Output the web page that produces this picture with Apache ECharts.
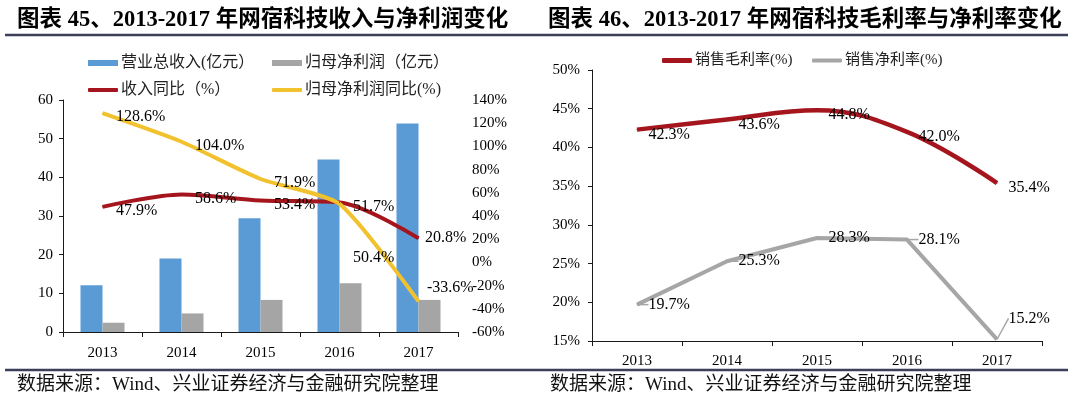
<!DOCTYPE html>
<html>
<head>
<meta charset="utf-8">
<script src="https://cdn.jsdelivr.net/npm/echarts@6/dist/echarts.min.js"></script>
<style>
html, body { margin: 0; padding: 0; background: #fff; }
#main { width: 1080px; height: 397px; }
</style>
</head>
<body>
<div id="main"></div>
<script>
// 数据
var years = ['2013', '2014', '2015', '2016', '2017'];
var revenue = [12.1, 19.0, 29.4, 44.6, 53.9];        // 营业总收入(亿元)
var netProfit = [2.4, 4.8, 8.3, 12.6, 8.3];          // 归母净利润(亿元)
var revenueYoY = [47.9, 58.6, 53.4, 51.7, 20.8];     // 收入同比(%)
var profitYoY = [128.6, 104.0, 71.9, 50.4, -33.6];   // 归母净利润同比(%)
var grossMargin = [42.3, 43.6, 44.8, 42.0, 35.4];    // 销售毛利率(%)
var netMargin = [19.7, 25.3, 28.3, 28.1, 15.2];      // 销售净利率(%)

var serif = "'Liberation Serif', 'Noto Sans CJK SC', serif";
var RED = '#a5151d', YELLOW = '#f2c12e', BLUE = '#5b9bd5', GREY_BAR = '#a5a5a5', GREY_LINE = '#a6a6a6';

var myChart = echarts.init(document.getElementById('main'));

function pct(p) { return p.value.toFixed(1) + '%'; }

// 折线标签
function lineLabel(dist, off) {
    return {
        show: true, position: 'right', distance: dist, offset: off,
        fontSize: 16, color: '#000', fontFamily: serif, formatter: pct
    };
}

function catAxis(grid, margin) {
    return {
        type: 'category', gridIndex: grid, data: years,
        axisLine: { lineStyle: { color: '#1a1a1a', width: 1 } },
        axisTick: { show: true, length: 5, lineStyle: { color: '#1a1a1a' } },
        axisLabel: { fontSize: 15, color: '#000', fontFamily: serif, margin: margin }
    };
}

function legendItem(left, top, name, icon, color, h, fs) {
    return {
        left: left, top: top, padding: 0, itemGap: 0,
        itemWidth: 30, itemHeight: h, icon: icon,
        data: [{ name: name, itemStyle: { color: color } }],
        textStyle: { fontSize: fs, color: '#222', fontFamily: serif, padding: [0, 0, 0, -2] }
    };
}

var option = {
    backgroundColor: '#fff',
    animation: false,
    title: [
        { text: '图表 45、2013-2017 年网宿科技收入与净利润变化', left: 17, top: 9, padding: 0,
          textStyle: { fontSize: 22.5, fontWeight: 'bold', color: '#000', fontFamily: serif } },
        { text: '图表 46、2013-2017 年网宿科技毛利率与净利率变化', left: 548, top: 9, padding: 0,
          textStyle: { fontSize: 22.5, fontWeight: 'bold', color: '#000', fontFamily: serif } },
        { text: '数据来源：Wind、兴业证券经济与金融研究院整理', left: 17, top: 376, padding: 0,
          textStyle: { fontSize: 19, fontWeight: 'normal', color: '#111', fontFamily: serif } },
        { text: '数据来源：Wind、兴业证券经济与金融研究院整理', left: 550, top: 376, padding: 0,
          textStyle: { fontSize: 19, fontWeight: 'normal', color: '#111', fontFamily: serif } }
    ],
    graphic: [
        { type: 'line', shape: { x1: 5, y1: 35, x2: 1068, y2: 35 }, style: { stroke: '#3b3f58', lineWidth: 2.5 } },
        { type: 'line', shape: { x1: 5, y1: 370, x2: 1068, y2: 370 }, style: { stroke: '#3b3f58', lineWidth: 2.5 } }
    ],
    legend: [
        legendItem(88, 55, '营业总收入(亿元）', 'rect', BLUE, 6, 16),
        legendItem(272, 55, '归母净利润（亿元）', 'rect', GREY_BAR, 6, 16),
        legendItem(88, 82, '收入同比（%）', 'roundRect', RED, 4, 16),
        legendItem(272, 82, '归母净利润同比(%)', 'roundRect', YELLOW, 4, 16),
        legendItem(662, 53, '销售毛利率(%)', 'roundRect', RED, 5, 15),
        legendItem(812, 53, '销售净利率(%)', 'roundRect', GREY_LINE, 4, 15)
    ],
    grid: [
        { left: 63, top: 100, width: 395, height: 232 },
        { left: 592, top: 70, width: 450, height: 271 }
    ],
    xAxis: [catAxis(0, 14), catAxis(1, 13)],
    yAxis: [
        {
            type: 'value', gridIndex: 0, min: 0, max: 60, interval: 10,
            axisLine: { show: true, lineStyle: { color: '#1a1a1a' } },
            axisTick: { show: true, length: 4, lineStyle: { color: '#1a1a1a' } },
            splitLine: { show: false },
            axisLabel: { fontSize: 15, color: '#000', fontFamily: serif, margin: 10 }
        },
        {
            type: 'value', gridIndex: 0, position: 'right', min: -60, max: 140, interval: 20,
            axisLine: { show: false }, axisTick: { show: false }, splitLine: { show: false },
            axisLabel: { fontSize: 15, color: '#000', fontFamily: serif, margin: 14, formatter: '{value}%' }
        },
        {
            type: 'value', gridIndex: 1, min: 15, max: 50, interval: 5,
            axisLine: { show: true, lineStyle: { color: '#1a1a1a' } },
            axisTick: { show: true, length: 4, lineStyle: { color: '#1a1a1a' } },
            splitLine: { show: false },
            axisLabel: { fontSize: 15, color: '#000', fontFamily: serif, margin: 12, formatter: '{value}%' }
        }
    ],
    series: [
        {
            name: '营业总收入(亿元）', type: 'bar', xAxisIndex: 0, yAxisIndex: 0,
            barWidth: 22, barGap: '0%', itemStyle: { color: BLUE }, data: revenue
        },
        {
            name: '归母净利润（亿元）', type: 'bar', xAxisIndex: 0, yAxisIndex: 0,
            barWidth: 22, barGap: '0%', itemStyle: { color: GREY_BAR }, data: netProfit
        },
        {
            name: '收入同比（%）', type: 'line', xAxisIndex: 0, yAxisIndex: 1,
            smooth: 0.3, symbol: 'circle', symbolSize: 1,
            itemStyle: { color: RED }, lineStyle: { color: RED, width: 4 },
            label: lineLabel(13, [0, 4]),
            data: revenueYoY.map(function (v, i) {
                return i === 4 ? { value: v, label: { distance: 6, offset: [0, 0] } } : v;
            })
        },
        {
            name: '归母净利润同比(%)', type: 'line', xAxisIndex: 0, yAxisIndex: 1,
            smooth: 0.2, symbol: 'circle', symbolSize: 1,
            itemStyle: { color: YELLOW }, lineStyle: { color: YELLOW, width: 4 },
            label: lineLabel(13, [0, 4]),
            data: profitYoY.map(function (v, i) {
                if (i === 3) return { value: v, label: { offset: [0, 54] } };
                if (i === 4) return { value: v, label: { distance: 8, offset: [0, -14] } };
                return v;
            })
        },
        {
            name: '销售毛利率(%)', type: 'line', xAxisIndex: 1, yAxisIndex: 2,
            smooth: 0.4, symbol: 'circle', symbolSize: 1,
            itemStyle: { color: RED }, lineStyle: { color: RED, width: 4.5 },
            label: lineLabel(11, [0, 5]),
            data: grossMargin
        },
        {
            name: '销售净利率(%)', type: 'line', xAxisIndex: 1, yAxisIndex: 2,
            smooth: false, symbol: 'circle', symbolSize: 1,
            itemStyle: { color: GREY_LINE }, lineStyle: { color: GREY_LINE, width: 4, join: 'round' },
            label: lineLabel(11, [0, 5]),
            labelLine: { show: true, lineStyle: { color: GREY_LINE, width: 1.5 } },
            labelLayout: function (p) {
                if (p.dataIndex === 4) return { dx: 0, dy: -21 };
                return {};
            },
            data: netMargin
        }
    ]
};

myChart.setOption(option);
</script>
</body>
</html>
